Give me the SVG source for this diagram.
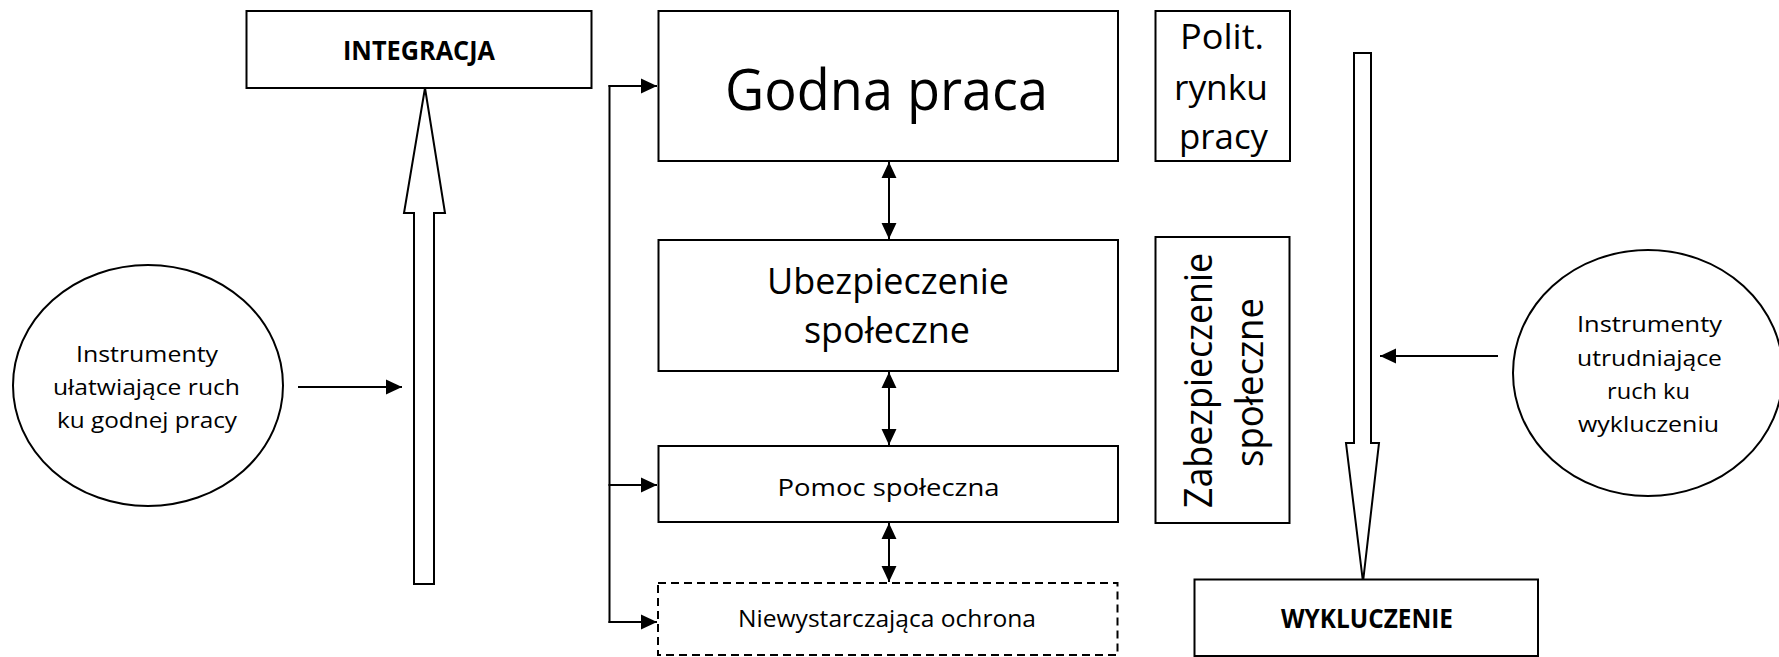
<svg xmlns="http://www.w3.org/2000/svg" width="1779" height="657" viewBox="0 0 1779 657">
<defs>
<style>
.box{fill:#fff;stroke:#000;stroke-width:2}
.dash{fill:#fff;stroke:#000;stroke-width:2;stroke-dasharray:8 5}
.ell{fill:#fff;stroke:#000;stroke-width:2}
.blk{fill:#fff;stroke:#000;stroke-width:2;stroke-linejoin:miter}
.ln{fill:none;stroke:#000;stroke-width:2}
text{font-family:"Open Sans","Liberation Sans",sans-serif;fill:#000;text-anchor:middle}
.b{font-weight:bold}
</style>
<marker id="ah" markerUnits="userSpaceOnUse" markerWidth="16" markerHeight="16" viewBox="0 0 15 14" refX="15" refY="7" orient="auto-start-reverse">
<path d="M0,0 L15,7 L0,14 z" fill="#000"/>
</marker>
</defs>
<rect width="1779" height="657" fill="#fff"/>

<g id="connectors">
<path class="ln" d="M609.5,85 V623"/>
<path class="ln" d="M608.5,86 H657" marker-end="url(#ah)"/>
<path class="ln" d="M608.5,485 H657" marker-end="url(#ah)"/>
<path class="ln" d="M608.5,622 H657" marker-end="url(#ah)"/>
<path class="ln" d="M889,162 V239" marker-start="url(#ah)" marker-end="url(#ah)"/>
<path class="ln" d="M889,372 V445" marker-start="url(#ah)" marker-end="url(#ah)"/>
<path class="ln" d="M889,523 V582" marker-start="url(#ah)" marker-end="url(#ah)"/>
<path class="ln" d="M298,387 H402" marker-end="url(#ah)"/>
<path class="ln" d="M1498,356 H1380" marker-end="url(#ah)"/>
</g>

<g id="arrow-up">
<polygon class="blk" points="425,88 445,213 434,213 434,584 414,584 414,213 404,213"/>
</g>
<g id="arrow-down">
<polygon class="blk" points="1354,53 1371,53 1371,443 1379,443 1363,582 1346,443 1354,443"/>
</g>

<g id="integracja">
<rect class="box" x="246.5" y="11" width="345" height="77"/>
<text class="b" x="419" y="60" font-size="26.5" textLength="152" lengthAdjust="spacingAndGlyphs">INTEGRACJA</text>
</g>

<g id="godna-praca">
<rect class="box" x="658.5" y="11" width="459.5" height="150"/>
<text x="886.5" y="110" font-size="57" textLength="323" lengthAdjust="spacingAndGlyphs">Godna praca</text>
</g>

<g id="polit-rynku-pracy">
<rect class="box" x="1155.5" y="11" width="134.5" height="150"/>
<text x="1222" y="49" font-size="35" textLength="84" lengthAdjust="spacingAndGlyphs">Polit.</text>
<text x="1221" y="100" font-size="35" textLength="94" lengthAdjust="spacingAndGlyphs">rynku</text>
<text x="1223.5" y="149" font-size="35" textLength="89" lengthAdjust="spacingAndGlyphs">pracy</text>
</g>

<g id="ubezpieczenie">
<rect class="box" x="658.5" y="240" width="459.5" height="131"/>
<text x="888" y="294" font-size="36.5" textLength="242" lengthAdjust="spacingAndGlyphs">Ubezpieczenie</text>
<text x="887" y="343" font-size="36.5" textLength="166" lengthAdjust="spacingAndGlyphs">społeczne</text>
</g>

<g id="zabezpieczenie">
<rect class="box" x="1155.5" y="237" width="134" height="286"/>
<text transform="rotate(-90 1212 380.5)" x="1212" y="380.5" font-size="38" textLength="255" lengthAdjust="spacingAndGlyphs">Zabezpieczenie</text>
<text transform="rotate(-90 1263 382.5)" x="1263" y="382.5" font-size="38" textLength="169" lengthAdjust="spacingAndGlyphs">społeczne</text>
</g>

<g id="pomoc">
<rect class="box" x="658.5" y="446" width="459.5" height="76"/>
<text x="888.5" y="496" font-size="24" textLength="222" lengthAdjust="spacingAndGlyphs">Pomoc społeczna</text>
</g>

<g id="niewystarczajaca">
<rect class="dash" x="658" y="583" width="459.5" height="72"/>
<text x="887" y="627" font-size="24" textLength="298" lengthAdjust="spacingAndGlyphs">Niewystarczająca ochrona</text>
</g>

<g id="wykluczenie">
<rect class="box" x="1194.5" y="579.5" width="343.5" height="76.5"/>
<text class="b" x="1367" y="628" font-size="26" textLength="172" lengthAdjust="spacingAndGlyphs">WYKLUCZENIE</text>
</g>

<g id="instrumenty-left">
<ellipse class="ell" cx="148" cy="385.5" rx="135" ry="120.5"/>
<text x="147" y="362" font-size="21" textLength="142" lengthAdjust="spacingAndGlyphs">Instrumenty</text>
<text x="146.5" y="395" font-size="21" textLength="187" lengthAdjust="spacingAndGlyphs">ułatwiające ruch</text>
<text x="147" y="428" font-size="21" textLength="180" lengthAdjust="spacingAndGlyphs">ku godnej pracy</text>
</g>

<g id="instrumenty-right">
<ellipse class="ell" cx="1648" cy="373" rx="135" ry="123"/>
<text x="1649.5" y="332" font-size="21" textLength="145" lengthAdjust="spacingAndGlyphs">Instrumenty</text>
<text x="1649.5" y="365.5" font-size="21" textLength="145" lengthAdjust="spacingAndGlyphs">utrudniające</text>
<text x="1648.5" y="399" font-size="21" textLength="83" lengthAdjust="spacingAndGlyphs">ruch ku</text>
<text x="1648.5" y="432" font-size="21" textLength="141" lengthAdjust="spacingAndGlyphs">wykluczeniu</text>
</g>
</svg>
